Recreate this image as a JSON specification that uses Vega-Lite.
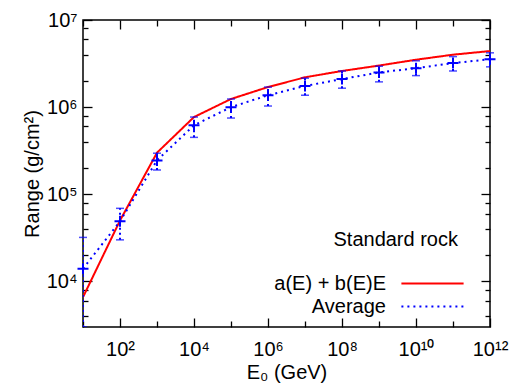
{
  "$schema": "https://vega.github.io/schema/vega-lite/v6.json",
  "width": 407,
  "height": 307,
  "autosize": "none",
  "padding": {"left": 83, "top": 20, "right": 25, "bottom": 58},
  "background": "white",
  "title": {
    "text": "Standard rock", "anchor": "end", "frame": "group", "orient": "top", "offset": 0,
    "dx": -32, "dy": 256, "baseline": "alphabetic",
    "font": "Liberation Sans", "fontSize": 20, "fontWeight": "normal", "color": "black"
  },
  "config": {
    "font": "Liberation Sans",
    "view": {"stroke": "black", "strokeWidth": 1.5},
    "axis": {
      "domain": false,
      "grid": false,
      "tickColor": "black",
      "tickWidth": 1.3,
      "labelFont": "Liberation Sans",
      "labelFontSize": 20,
      "labelColor": "black",
      "labelOverlap": false,
      "labelFlush": false,
      "labelBound": false,
      "titleFont": "Liberation Sans",
      "titleFontSize": 20,
      "titleFontWeight": "normal",
      "titleColor": "black"
    }
  },
  "datasets": {
    "fit": [
      {"E": 10, "R": 6600, "series": "a(E) + b(E)E"},
      {"E": 100, "R": 50000, "series": "a(E) + b(E)E"},
      {"E": 1000, "R": 300000, "series": "a(E) + b(E)E"},
      {"E": 10000, "R": 770000, "series": "a(E) + b(E)E"},
      {"E": 100000, "R": 1240000, "series": "a(E) + b(E)E"},
      {"E": 1000000, "R": 1700000, "series": "a(E) + b(E)E"},
      {"E": 10000000, "R": 2200000, "series": "a(E) + b(E)E"},
      {"E": 100000000, "R": 2600000, "series": "a(E) + b(E)E"},
      {"E": 1000000000, "R": 3000000, "series": "a(E) + b(E)E"},
      {"E": 10000000000, "R": 3500000, "series": "a(E) + b(E)E"},
      {"E": 100000000000, "R": 4000000, "series": "a(E) + b(E)E"},
      {"E": 1000000000000, "R": 4400000, "series": "a(E) + b(E)E"}
    ],
    "avg": [
      {"E": 10, "R": 14000, "lo": 3000, "hi": 32000, "series": "Average"},
      {"E": 100, "R": 49000, "lo": 30000, "hi": 69000, "series": "Average"},
      {"E": 1000, "R": 245000, "lo": 190000, "hi": 296000, "series": "Average"},
      {"E": 10000, "R": 620000, "lo": 450000, "hi": 770000, "series": "Average"},
      {"E": 100000, "R": 1000000, "lo": 750000, "hi": 1240000, "series": "Average"},
      {"E": 1000000, "R": 1370000, "lo": 1030000, "hi": 1700000, "series": "Average"},
      {"E": 10000000, "R": 1750000, "lo": 1370000, "hi": 2150000, "series": "Average"},
      {"E": 100000000, "R": 2100000, "lo": 1650000, "hi": 2600000, "series": "Average"},
      {"E": 1000000000, "R": 2500000, "lo": 1950000, "hi": 2950000, "series": "Average"},
      {"E": 10000000000, "R": 2800000, "lo": 2300000, "hi": 3400000, "series": "Average"},
      {"E": 100000000000, "R": 3200000, "lo": 2600000, "hi": 3800000, "series": "Average"},
      {"E": 1000000000000, "R": 3550000, "lo": 2900000, "hi": 4200000, "series": "Average"}
    ]
  },
  "resolve": {"axis": {"x": "independent", "y": "independent"}},
  "layer": [
    {
      "data": {"name": "fit"},
      "mark": {"type": "line", "clip": true, "strokeWidth": 2},
      "encoding": {
        "x": {
          "field": "E", "type": "quantitative",
          "scale": {"type": "log", "domain": [10, 1000000000000], "nice": false},
          "axis": {
            "orient": "bottom",
            "values": [10, 100, 1000, 10000, 100000, 1000000, 10000000, 100000000, 1000000000, 10000000000, 100000000000, 1000000000000],
            "tickSize": {"condition": {"test": "round(log(datum.value)/LN10) % 2 == 0", "value": -9}, "value": -6},
            "labelPadding": 21,
            "labelExpr": "round(log(datum.value)/LN10) % 2 == 1 ? '' : '10' + (datum.value >= 1e10 ? '¹' : '') + ['⁰','¹','²','³','⁴','⁵','⁶','⁷','⁸','⁹'][round(log(datum.value)/LN10) % 10]",
            "title": "E₀ (GeV)",
            "titlePadding": 0
          }
        },
        "y": {
          "field": "R", "type": "quantitative",
          "scale": {"type": "log", "domain": [3000, 10000000], "nice": false},
          "axis": {
            "orient": "left",
            "values": [4000, 6000, 8000, 10000, 20000, 40000, 60000, 80000, 100000, 200000, 400000, 600000, 800000, 1000000, 2000000, 4000000, 6000000, 8000000, 10000000],
            "tickSize": {"condition": {"test": "indexof([10000,100000,1000000,10000000], datum.value) >= 0", "value": -9}, "value": -5},
            "labelPadding": 15,
            "labelExpr": "indexof([10000,100000,1000000,10000000], datum.value) >= 0 ? '10' + ['⁰','¹','²','³','⁴','⁵','⁶','⁷','⁸','⁹'][round(log(datum.value)/LN10)] : ''",
            "title": "Range (g/cm²)",
            "titlePadding": 4
          }
        },
        "color": {
          "field": "series", "type": "nominal",
          "scale": {"domain": ["a(E) + b(E)E", "Average"], "range": ["#ff0000", "#0000ff"]},
          "legend": {
            "title": null, "orient": "none", "legendX": 338, "legendY": 252, "rowPadding": 1,
            "symbolType": "M-3,0H3", "symbolSize": 430, "symbolStrokeWidth": 2,
            "labelAlign": "right", "labelOffset": -58, "labelFont": "Liberation Sans", "labelFontSize": 20, "labelColor": "black"
          }
        },
        "strokeDash": {
          "field": "series", "type": "nominal",
          "scale": {"domain": ["a(E) + b(E)E", "Average"], "range": [[1, 0], [2, 4]]},
          "legend": {
            "title": null, "orient": "none", "legendX": 338, "legendY": 252, "rowPadding": 1,
            "symbolType": "M-3,0H3", "symbolSize": 430, "symbolStrokeWidth": 2,
            "labelAlign": "right", "labelOffset": -58, "labelFont": "Liberation Sans", "labelFontSize": 20, "labelColor": "black"
          }
        }
      }
    },
    {
      "data": {"name": "avg"},
      "mark": {"type": "line", "clip": true, "strokeWidth": 2},
      "encoding": {
        "x": {
          "field": "E", "type": "quantitative",
          "axis": {
            "orient": "top",
            "values": [10, 100, 1000, 10000, 100000, 1000000, 10000000, 100000000, 1000000000, 10000000000, 100000000000, 1000000000000],
            "tickSize": {"condition": {"test": "round(log(datum.value)/LN10) % 2 == 0", "value": -9}, "value": -6},
            "labels": false,
            "title": null
          }
        },
        "y": {
          "field": "R", "type": "quantitative",
          "axis": {
            "orient": "right",
            "values": [4000, 6000, 8000, 10000, 20000, 40000, 60000, 80000, 100000, 200000, 400000, 600000, 800000, 1000000, 2000000, 4000000, 6000000, 8000000, 10000000],
            "tickSize": {"condition": {"test": "indexof([10000,100000,1000000,10000000], datum.value) >= 0", "value": -9}, "value": -5},
            "labels": false,
            "title": null
          }
        },
        "color": {"field": "series", "type": "nominal"},
        "strokeDash": {"field": "series", "type": "nominal"}
      }
    },
    {
      "data": {"name": "avg"},
      "mark": {"type": "rule", "clip": true, "strokeWidth": 2, "strokeDash": [2, 3], "color": "#0000ff"},
      "encoding": {
        "x": {"field": "E", "type": "quantitative", "axis": null},
        "y": {"field": "lo", "type": "quantitative", "axis": null},
        "y2": {"field": "hi"}
      }
    },
    {
      "data": {"name": "avg"},
      "mark": {"type": "tick", "orient": "horizontal", "size": 8, "thickness": 1.5, "color": "#0000ff"},
      "encoding": {
        "x": {"field": "E", "type": "quantitative", "axis": null},
        "y": {"field": "hi", "type": "quantitative", "axis": null}
      }
    },
    {
      "data": {"name": "avg"},
      "mark": {"type": "tick", "orient": "horizontal", "size": 8, "thickness": 1.5, "color": "#0000ff", "clip": true},
      "encoding": {
        "x": {"field": "E", "type": "quantitative", "axis": null},
        "y": {"field": "lo", "type": "quantitative", "axis": null}
      }
    },
    {
      "data": {"name": "avg"},
      "mark": {"type": "point", "shape": "M-1,0H1M0,-1V1", "size": 121, "filled": false, "strokeWidth": 2, "color": "#0000ff", "opacity": 1},
      "encoding": {
        "x": {"field": "E", "type": "quantitative", "axis": null},
        "y": {"field": "R", "type": "quantitative", "axis": null}
      }
    }
  ]
}
